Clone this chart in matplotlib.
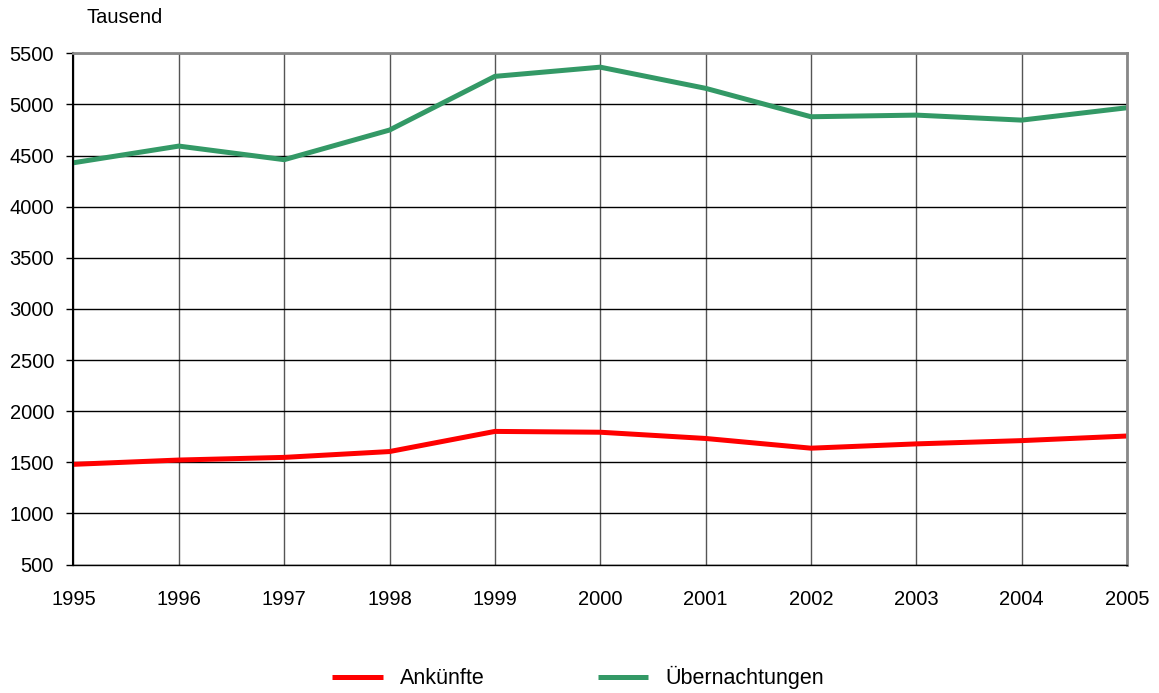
import matplotlib
matplotlib.use("Agg")
import matplotlib.pyplot as plt

plt.rcParams['font.family'] = ['Liberation Sans', 'DejaVu Sans']

years = [1995, 1996, 1997, 1998, 1999, 2000, 2001, 2002, 2003, 2004, 2005]
ankuenfte = [1480, 1522, 1548, 1605, 1802, 1794, 1733, 1638, 1680, 1712, 1757]
uebernachtungen = [4430, 4593, 4460, 4750, 5275, 5365, 5158, 4880, 4896, 4847, 4968]
y_ticks = list(range(500, 5501, 500))

fig = plt.figure(figsize=(11.59, 6.93), dpi=100)
ax = fig.add_axes([0.0634, 0.1854, 0.909, 0.7376])

ax.plot(years, ankuenfte, color='#ff0000', linewidth=3.6, label='Ankünfte', solid_capstyle='butt')
ax.plot(years, uebernachtungen, color='#339966', linewidth=3.6, label='Übernachtungen', solid_capstyle='butt')

ax.set_xlim(1995, 2005)
ax.set_ylim(500, 5500)
ax.set_xticks(years)
ax.set_yticks(y_ticks)
ax.tick_params(axis='both', labelsize=14.5, colors='black')
ax.tick_params(axis='x', length=0, pad=18)
ax.tick_params(axis='y', length=5, width=1, direction='out', pad=9)

ax.grid(axis='y', color='black', linewidth=1)
ax.grid(axis='x', color='#555555', linewidth=1)
ax.set_axisbelow(True)

for side in ['top', 'right']:
    ax.spines[side].set_color('#888888')
    ax.spines[side].set_linewidth(2)
ax.spines['left'].set_color('black')
ax.spines['left'].set_linewidth(1.5)
ax.spines['bottom'].set_color('black')
ax.spines['bottom'].set_linewidth(1)

fig.text(0.075, 0.975, 'Tausend', fontsize=14.5, va='center', ha='left')

fig.legend(loc='center', bbox_to_anchor=(0.4987, 0.022), ncol=2, frameon=False,
           fontsize=15.5, handlelength=2.33, handletextpad=0.8, columnspacing=5.25)

fig.savefig('out.png', dpi=100)
